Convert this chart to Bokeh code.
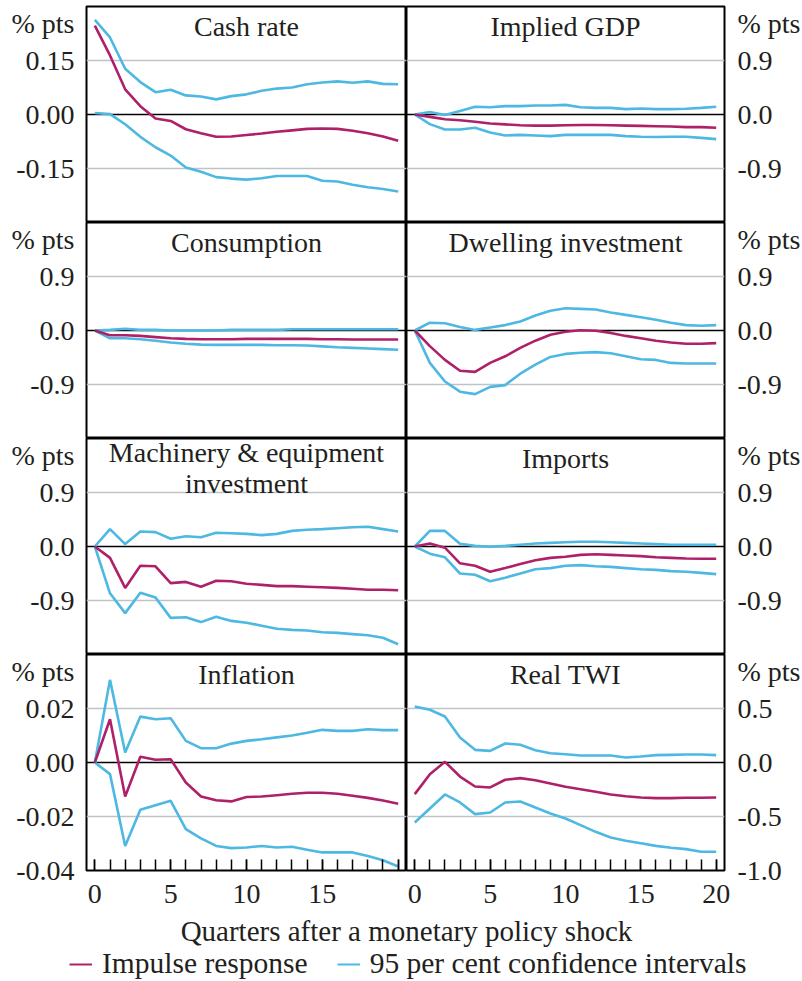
from bokeh.plotting import figure
from bokeh.layouts import column, row
from bokeh.models import (Range1d, FixedTicker, CustomJSTickFormatter, Span, Label,
                          Legend, LegendItem, SingleIntervalTicker)
from bokeh.embed import file_html
from bokeh.resources import INLINE

FONT = "Liberation Serif"
FS = "28px"
TXT = "#231f20"
MAGENTA = "#AE2068"
BLUE = "#4DB8E2"
GRID = "#BEC3C8"

quarters = [0, 1, 2, 3, 4, 5, 6, 7, 8, 9, 10, 11, 12, 13, 14, 15, 16, 17, 18, 19, 20]

cash_irf = [0.247, 0.164, 0.070, 0.023, -0.011, -0.018, -0.041, -0.052, -0.062, -0.061, -0.057,
            -0.053, -0.048, -0.044, -0.040, -0.039, -0.040, -0.045, -0.052, -0.061, -0.073]
cash_up = [0.263, 0.214, 0.127, 0.090, 0.062, 0.069, 0.053, 0.050, 0.042, 0.051, 0.056,
           0.066, 0.072, 0.075, 0.084, 0.089, 0.092, 0.088, 0.092, 0.085, 0.084]
cash_lo = [0.004, 0.001, -0.027, -0.062, -0.091, -0.114, -0.147, -0.159, -0.174, -0.178, -0.181,
           -0.177, -0.171, -0.171, -0.171, -0.184, -0.186, -0.195, -0.202, -0.207, -0.214]

gdp_irf = [0, -0.04, -0.08, -0.095, -0.12, -0.15, -0.165, -0.18, -0.185, -0.185, -0.18,
           -0.175, -0.175, -0.18, -0.185, -0.19, -0.195, -0.20, -0.21, -0.21, -0.22]
gdp_up = [0, 0.04, -0.01, 0.06, 0.13, 0.12, 0.14, 0.14, 0.15, 0.15, 0.16,
          0.12, 0.11, 0.11, 0.09, 0.10, 0.09, 0.09, 0.095, 0.11, 0.13]
gdp_lo = [0, -0.16, -0.25, -0.25, -0.22, -0.30, -0.35, -0.34, -0.35, -0.36, -0.34,
          -0.34, -0.34, -0.34, -0.36, -0.37, -0.375, -0.37, -0.37, -0.39, -0.41]

cons_irf = [0, -0.08, -0.08, -0.09, -0.11, -0.13, -0.14, -0.145, -0.145, -0.145, -0.14,
            -0.14, -0.14, -0.14, -0.14, -0.145, -0.145, -0.15, -0.15, -0.15, -0.15]
cons_up = [0, 0.01, 0.03, 0.01, 0.01, 0.0, 0.0, 0.0, 0.0, 0.01, 0.01,
           0.01, 0.01, 0.02, 0.02, 0.02, 0.02, 0.02, 0.02, 0.02, 0.02]
cons_lo = [0, -0.13, -0.13, -0.145, -0.17, -0.20, -0.22, -0.235, -0.24, -0.24, -0.24,
           -0.24, -0.245, -0.245, -0.25, -0.265, -0.28, -0.29, -0.30, -0.31, -0.32]

dwell_irf = [0, -0.26, -0.49, -0.67, -0.69, -0.54, -0.43, -0.29, -0.17, -0.07, -0.02,
             0.005, -0.005, -0.04, -0.09, -0.13, -0.17, -0.20, -0.22, -0.22, -0.21]
dwell_up = [0, 0.13, 0.12, 0.06, 0.01, 0.05, 0.09, 0.15, 0.25, 0.33, 0.37,
            0.36, 0.35, 0.30, 0.26, 0.22, 0.18, 0.13, 0.09, 0.08, 0.09]
dwell_lo = [0, -0.54, -0.85, -1.02, -1.06, -0.94, -0.91, -0.72, -0.57, -0.44, -0.39,
            -0.37, -0.36, -0.38, -0.43, -0.48, -0.49, -0.54, -0.55, -0.55, -0.55]

mach_irf = [0, -0.19, -0.69, -0.32, -0.33, -0.61, -0.59, -0.67, -0.57, -0.58, -0.62,
            -0.64, -0.66, -0.66, -0.67, -0.68, -0.69, -0.705, -0.72, -0.72, -0.73]
mach_up = [0, 0.29, 0.04, 0.25, 0.24, 0.13, 0.17, 0.155, 0.23, 0.22, 0.21,
           0.19, 0.21, 0.26, 0.28, 0.29, 0.305, 0.32, 0.33, 0.29, 0.25]
mach_lo = [0, -0.78, -1.11, -0.77, -0.85, -1.19, -1.18, -1.26, -1.17, -1.24, -1.27,
           -1.32, -1.37, -1.39, -1.40, -1.43, -1.44, -1.46, -1.48, -1.52, -1.63]

imp_irf = [0, 0.05, -0.02, -0.28, -0.32, -0.42, -0.36, -0.29, -0.23, -0.19, -0.17,
           -0.14, -0.13, -0.14, -0.15, -0.16, -0.18, -0.19, -0.20, -0.205, -0.205]
imp_up = [0, 0.26, 0.26, 0.045, 0.01, -0.005, 0.01, 0.03, 0.05, 0.06, 0.07,
          0.08, 0.08, 0.07, 0.06, 0.05, 0.04, 0.03, 0.03, 0.03, 0.03]
imp_lo = [0, -0.12, -0.18, -0.45, -0.47, -0.58, -0.52, -0.45, -0.38, -0.36, -0.32,
          -0.31, -0.33, -0.34, -0.36, -0.38, -0.39, -0.41, -0.42, -0.44, -0.46]

infl_irf = [0, 0.016, -0.0126, 0.0021, 0.001, 0.0012, -0.0074, -0.0126, -0.014, -0.0144, -0.0128,
            -0.0126, -0.0121, -0.0116, -0.0112, -0.0112, -0.0116, -0.0123, -0.0131, -0.0141, -0.0153]
infl_up = [0, 0.0306, 0.0037, 0.017, 0.016, 0.0164, 0.008, 0.0053, 0.0053, 0.007, 0.008,
           0.0086, 0.0093, 0.010, 0.011, 0.0121, 0.0117, 0.0117, 0.0123, 0.012, 0.012]
infl_lo = [0, -0.0043, -0.0309, -0.0175, -0.0158, -0.0142, -0.0247, -0.0281, -0.0309, -0.0317, -0.0315,
           -0.0309, -0.0315, -0.0312, -0.0323, -0.0333, -0.0333, -0.0333, -0.0346, -0.0362, -0.0385]

twi_irf = [-0.293, -0.108, 0.006, -0.13, -0.222, -0.231, -0.16, -0.145, -0.164, -0.194, -0.225,
           -0.247, -0.27, -0.296, -0.312, -0.324, -0.33, -0.33, -0.327, -0.327, -0.324]
twi_up = [0.519, 0.488, 0.426, 0.231, 0.117, 0.108, 0.176, 0.164, 0.114, 0.086, 0.077,
          0.065, 0.065, 0.065, 0.046, 0.056, 0.068, 0.071, 0.074, 0.074, 0.068]
twi_lo = [-0.556, -0.426, -0.296, -0.37, -0.478, -0.463, -0.37, -0.361, -0.417, -0.472, -0.519,
          -0.58, -0.642, -0.694, -0.725, -0.747, -0.772, -0.79, -0.802, -0.827, -0.827]

titles = ["Cash rate", "Implied GDP", "Consumption", "Dwelling investment",
          "Machinery & equipment\ninvestment", "Imports", "Inflation", "Real TWI"]
y_limits = [0.3, 1.8, 1.8, 1.8, 1.8, 1.8, 0.04, 1.0]
y_ticks = [[-0.15, 0.0, 0.15], [-0.9, 0.0, 0.9], [-0.9, 0.0, 0.9], [-0.9, 0.0, 0.9],
           [-0.9, 0.0, 0.9], [-0.9, 0.0, 0.9], [-0.04, -0.02, 0.0, 0.02], [-1.0, -0.5, 0.0, 0.5]]
y_decimals = [2, 1, 1, 1, 1, 1, 2, 1]
x_tick_labels_left = ["0", "5", "10", "15"]
x_tick_labels_right = ["0", "5", "10", "15", "20"]
series = [(cash_irf, cash_up, cash_lo), (gdp_irf, gdp_up, gdp_lo), (cons_irf, cons_up, cons_lo),
          (dwell_irf, dwell_up, dwell_lo), (mach_irf, mach_up, mach_lo), (imp_irf, imp_up, imp_lo),
          (infl_irf, infl_up, infl_lo), (twi_irf, twi_up, twi_lo)]
legend_labels = ["Impulse response", "95 per cent confidence intervals"]
x_axis_title = "Quarters after a monetary policy shock"

FH = 216
LW, RW = 320, 318
LB, RB = 86, 72
TOP = 6
AXIS_H = 44


def make_panel(i):
    r, c = divmod(i, 2)
    left = c == 0
    bottom = r == 3
    lim = y_limits[i]
    p = figure(frame_width=LW if left else RW, frame_height=FH,
               x_range=Range1d(-0.55, 20.55), y_range=Range1d(-lim, lim),
               output_backend="svg", toolbar_location=None,
               x_axis_location="below" if bottom else None,
               y_axis_location="left" if left else "right",
               min_border_left=LB if left else 0, min_border_right=0 if left else RB,
               min_border_top=TOP if r == 0 else 0, min_border_bottom=AXIS_H if bottom else 0)
    p.background_fill_color = "white"
    p.border_fill_color = "white"
    p.outline_line_color = "black"
    p.outline_line_width = 2
    p.outline_line_alpha = 1.0

    pts = lim * (1 - 2 * 17 / FH)
    ax = p.yaxis[0]
    ax.ticker = FixedTicker(ticks=y_ticks[i] + [pts])
    ax.formatter = CustomJSTickFormatter(
        args=dict(pts=pts, dec=y_decimals[i]),
        code="if (Math.abs(tick - pts) < 1e-9) { return '% pts'; } return tick.toFixed(dec);")
    ax.major_tick_line_color = None
    ax.minor_tick_line_color = None
    ax.major_tick_out = 0
    ax.major_tick_in = 0
    ax.minor_tick_out = 0
    ax.minor_tick_in = 0
    ax.axis_line_color = None
    ax.major_label_standoff = 12 if left else 13
    ax.major_label_text_font = FONT
    ax.major_label_text_font_size = FS
    ax.major_label_text_color = TXT

    p.xgrid.visible = False
    p.ygrid.ticker = FixedTicker(ticks=[t for t in y_ticks[i] if abs(t) > 1e-12 and abs(t + lim) > 1e-12])
    p.ygrid.grid_line_color = GRID
    p.ygrid.grid_line_width = 1.5

    p.add_layout(Span(location=0, dimension="width", line_color="black",
                      line_width=1.5, level="underlay"))

    if bottom:
        xa = p.xaxis[0]
        xa.ticker = SingleIntervalTicker(interval=5, num_minor_ticks=5)
        labels = x_tick_labels_left if left else x_tick_labels_right
        xa.major_label_overrides = {5 * k: (labels[k] if k < len(labels) else "") for k in range(5)}
        xa.major_tick_in = 11
        xa.major_tick_out = 0
        xa.minor_tick_in = 11
        xa.minor_tick_out = 0
        xa.major_tick_line_color = "black"
        xa.minor_tick_line_color = "black"
        xa.major_tick_line_width = 1.5
        xa.minor_tick_line_width = 1.5
        xa.axis_line_color = None
        xa.major_label_standoff = 14
        xa.major_label_text_font = FONT
        xa.major_label_text_font_size = FS
        xa.major_label_text_color = TXT

    irf, up, lo = series[i]
    p.line(quarters, up, line_color=BLUE, line_width=2.6)
    p.line(quarters, lo, line_color=BLUE, line_width=2.6)
    p.line(quarters, irf, line_color=MAGENTA, line_width=2.6)

    p.add_layout(Label(x=10, y=lim, text=titles[i], text_align="center", text_baseline="top",
                       y_offset=2 if "\n" in titles[i] else -4,
                       text_font=FONT, text_font_size=FS, text_color=TXT, text_line_height=1.03))
    return p


panels = [make_panel(i) for i in range(8)]
rows = [row(panels[2 * k], panels[2 * k + 1]) for k in range(4)]

FOOT_H = 66
TOTAL_W = LB + LW + RW + RB
foot = figure(frame_width=TOTAL_W, frame_height=FOOT_H, x_range=Range1d(0, TOTAL_W), y_range=Range1d(0, FOOT_H),
              output_backend="svg", toolbar_location=None, x_axis_location=None, y_axis_location=None,
              min_border_left=0, min_border_right=0, min_border_top=0, min_border_bottom=0)
foot.outline_line_color = None
foot.xgrid.visible = False
foot.ygrid.visible = False
foot.add_layout(Label(x=LB + LW, y=FOOT_H, text=x_axis_title,
                      text_align="center", text_baseline="top",
                      text_font=FONT, text_font_size="29px", text_color=TXT))
nan = float("nan")
r1 = foot.line([nan], [nan], line_color=MAGENTA, line_width=2)
r2 = foot.line([nan], [nan], line_color=BLUE, line_width=2)
leg = Legend(items=[LegendItem(label=legend_labels[0], renderers=[r1]),
                    LegendItem(label=legend_labels[1], renderers=[r2])],
             orientation="horizontal", location=(69, 0),
             border_line_color=None, background_fill_alpha=0,
             label_text_font=FONT, label_text_font_size="29.5px", label_text_color=TXT,
             glyph_width=23, label_standoff=10, spacing=29, padding=0, margin=0)
foot.add_layout(leg)

layout = column(*rows, foot)
open("out.html", "w").write(file_html(layout, INLINE))
